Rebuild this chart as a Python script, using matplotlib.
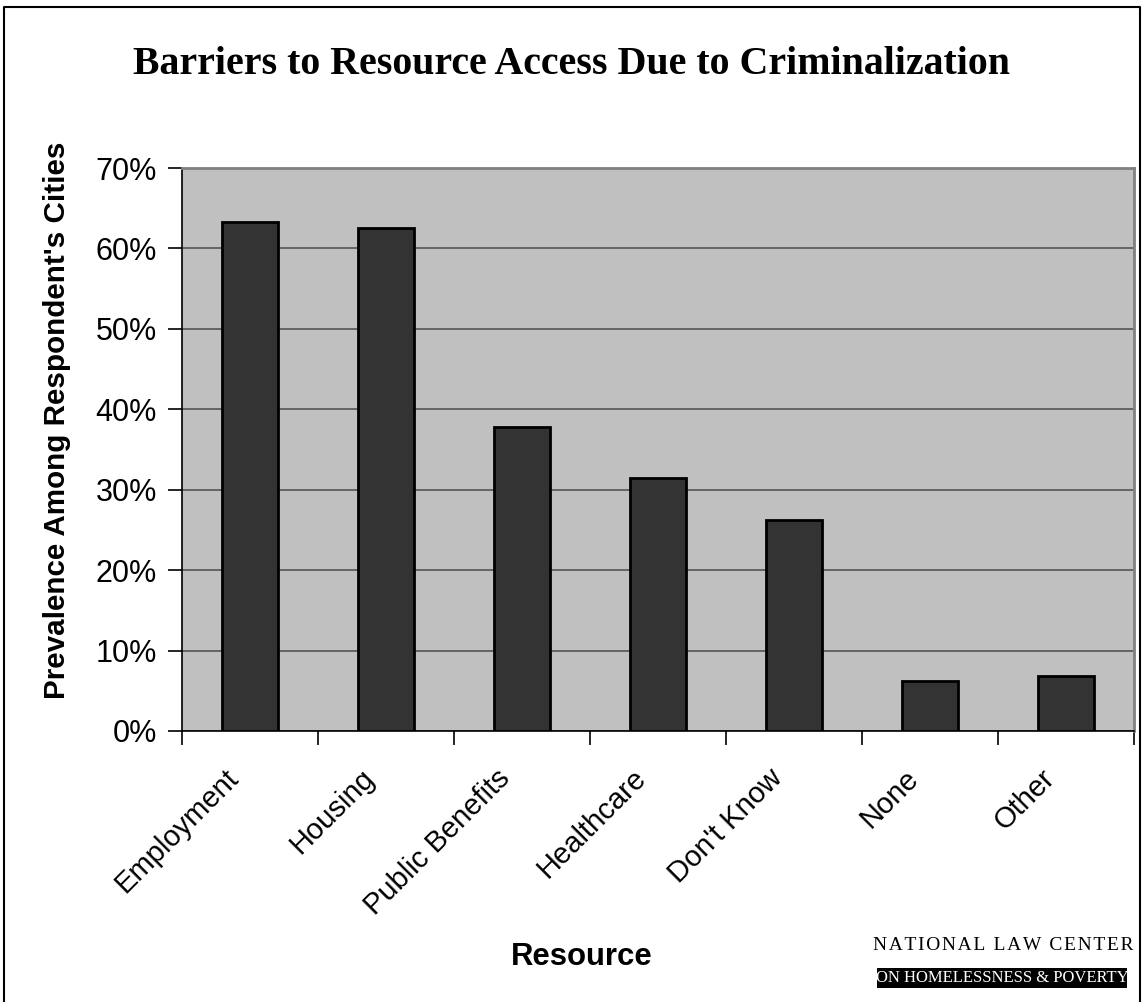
import numpy as np
import matplotlib.pyplot as plt
import matplotlib.transforms as mtransforms
from matplotlib.lines import Line2D
from matplotlib.patches import Rectangle

categories = ['Employment', 'Housing', 'Public Benefits', 'Healthcare',
              "Don't Know", 'None', 'Other']
values = [63.3, 62.5, 37.8, 31.5, 26.2, 6.2, 6.9]
yticks = [0, 10, 20, 30, 40, 50, 60, 70]

sans = ['Liberation Sans', 'DejaVu Sans']
serif = ['Liberation Serif', 'DejaVu Serif']

W, H = 1143, 1002
fig = plt.figure(figsize=(W / 100, H / 100), dpi=100)
fig.patch.set_facecolor('white')


def fx(px):
    return px / W


def fy(py):
    return 1 - py / H


# outer frame (top, left, right; bottom is cut off)
fig.add_artist(Line2D([fx(3.5), fx(3.5), fx(1140), fx(1140)],
                      [fy(1002), fy(7), fy(7), fy(1002)],
                      transform=fig.transFigure, color='black', linewidth=1.5))

ax = fig.add_axes([fx(182), fy(731), fx(952), 563 / H])
ax.set_facecolor('#C0C0C0')

x = np.arange(len(categories))
ax.bar(x, values, width=0.41, color='#333333', edgecolor='black',
       linewidth=2, zorder=3)

ax.set_xlim(-0.5, len(categories) - 0.5)
ax.set_ylim(0, 70)
ax.set_yticks(yticks)
ax.set_yticklabels([f'{v}%' for v in yticks], fontsize=22, family=sans)
ax.yaxis.grid(True, color='#555555', linewidth=1.2, zorder=1)

# ticks sit between categories, labels at centers
ax.set_xticks(np.arange(len(categories) + 1) - 0.5)
ax.set_xticklabels([])
ax.tick_params(axis='x', length=10, width=1.2, direction='out')
ax.tick_params(axis='y', length=10, width=1.2, direction='out', pad=8)

shift = mtransforms.ScaledTranslation(-16 / 100, -43 / 100, fig.dpi_scale_trans)
for i, name in enumerate(categories):
    ax.text(x[i], 0, name, transform=ax.get_xaxis_transform() + shift,
            rotation=45, ha='right', va='center', rotation_mode='anchor',
            fontsize=21, family=sans)

for s in ['top', 'right']:
    ax.spines[s].set_color('#808080')
    ax.spines[s].set_linewidth(2)
for s in ['left', 'bottom']:
    ax.spines[s].set_color('black')
    ax.spines[s].set_linewidth(1.2)

fig.text(fx(57), fy(420), "Prevalence Among Respondent's Cities",
         rotation=90, ha='center', va='center', fontsize=21.3,
         fontweight='bold', family=sans)

fig.text(0.5, fy(65), 'Barriers to Resource Access Due to Criminalization',
         ha='center', va='center', fontsize=28.7, fontweight='bold',
         family=serif)
fig.text(fx(582), fy(957), 'Resource', ha='center', va='center',
         fontsize=22.4, fontweight='bold', family=sans)

# logo
fig.text(fx(1003), fy(946), '\u200a'.join('NATIONAL LAW CENTER'),
         ha='center', va='center', fontsize=14, family=serif)
fig.add_artist(Rectangle((fx(877), fy(988)), fx(250), 20 / H,
                         transform=fig.transFigure, facecolor='black',
                         edgecolor='none'))
fig.text(fx(1002), fy(978), 'ON HOMELESSNESS & POVERTY',
         ha='center', va='center', fontsize=12, family=serif, color='white')

plt.savefig('out.png', dpi=100)
